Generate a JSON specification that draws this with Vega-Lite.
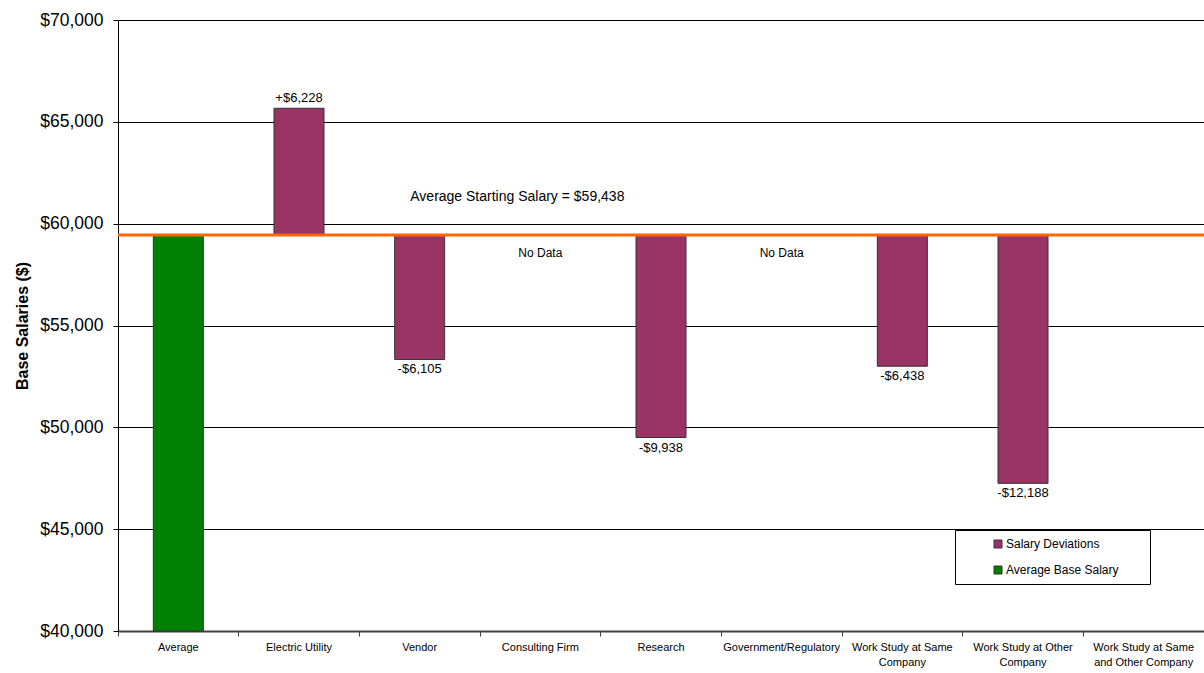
{
  "$schema": "https://vega.github.io/schema/vega-lite/v6.json",
  "autosize": {"type": "none"},
  "padding": {"left": 118, "top": 20, "right": 0, "bottom": 42},
  "width": 1086,
  "height": 611,
  "background": "white",
  "config": {
    "view": {"stroke": null},
    "font": "Liberation Sans",
    "text": {"font": "Liberation Sans"}
  },
  "datasets": {
    "bars": [
      {"cat": "Average", "start": 40000, "end": 59438, "series": "Average Base Salary", "label": ""},
      {"cat": "Electric Utility", "start": 59438, "end": 65666, "series": "Salary Deviations", "label": "+$6,228"},
      {"cat": "Vendor", "start": 59438, "end": 53333, "series": "Salary Deviations", "label": "-$6,105"},
      {"cat": "Research", "start": 59438, "end": 49500, "series": "Salary Deviations", "label": "-$9,938"},
      {"cat": "Work Study at Same Company", "start": 59438, "end": 53000, "series": "Salary Deviations", "label": "-$6,438"},
      {"cat": "Work Study at Other Company", "start": 59438, "end": 47250, "series": "Salary Deviations", "label": "-$12,188"}
    ],
    "nodata": [
      {"cat": "Consulting Firm", "y": 58560, "text": "No Data"},
      {"cat": "Government/Regulatory", "y": 58560, "text": "No Data"}
    ],
    "avg": [
      {"cat": "Consulting Firm", "value": 59438, "ylabel": 61300, "text": "Average Starting Salary = $59,438"}
    ]
  },
  "layer": [
    {
      "data": {"name": "bars"},
      "mark": {"type": "bar", "width": 50, "stroke": "#333333", "strokeWidth": 1},
      "encoding": {
        "x": {
          "field": "cat", "type": "nominal", "sort": null,
          "scale": {
            "domain": ["Average", "Electric Utility", "Vendor", "Consulting Firm", "Research", "Government/Regulatory", "Work Study at Same Company", "Work Study at Other Company", "Work Study at Same and Other Company"],
            "paddingInner": 0, "paddingOuter": 0
          },
          "axis": {
            "title": null, "bandPosition": 0, "labelAngle": 0,
            "tickSize": 5, "tickColor": "#404040", "domainColor": "#404040", "domainWidth": 2,
            "labelFontSize": 11, "labelColor": "black", "labelPadding": 5, "labelLimit": 300,
            "labelOverlap": false, "labelBound": false, "labelLineHeight": 15, "labelBaseline": "top",
            "grid": false,
            "labelExpr": "datum.value == 'Work Study at Same Company' ? ['Work Study at Same', 'Company'] : datum.value == 'Work Study at Other Company' ? ['Work Study at Other', 'Company'] : datum.value == 'Work Study at Same and Other Company' ? ['Work Study at Same', 'and Other Company'] : datum.value"
          }
        },
        "y": {
          "field": "start", "type": "quantitative",
          "scale": {"domain": [40000, 70000], "nice": false, "zero": false},
          "axis": {
            "title": "Base Salaries ($)", "titleFontSize": 16, "titleFontWeight": "bold", "titleColor": "black", "titlePadding": 9,
            "values": [40000, 45000, 50000, 55000, 60000, 65000, 70000], "format": "$,d",
            "labelFontSize": 17.5, "labelColor": "black", "labelPadding": 10, "tickSize": 5, "tickColor": "black",
            "domainColor": "black", "grid": true, "gridColor": "black", "gridOpacity": 1, "gridWidth": 1
          }
        },
        "y2": {"field": "end"},
        "color": {
          "field": "series", "type": "nominal",
          "scale": {"domain": ["Salary Deviations", "Average Base Salary"], "range": ["#993366", "#008000"]},
          "legend": {
            "title": null, "orient": "none", "legendX": 837, "legendY": 510,
            "symbolType": "square", "symbolSize": 64, "symbolStrokeColor": "#333333", "symbolStrokeWidth": 1,
            "symbolOffset": 29, "labelFontSize": 12, "labelColor": "black", "labelOffset": 2,
            "rowPadding": 14, "padding": 8, "strokeColor": "black", "fillColor": "white",
            "labelExpr": "datum.label + '       \u200b'", "labelLimit": 300
          }
        }
      }
    },
    {
      "data": {"name": "bars"},
      "transform": [{"filter": "datum.end > datum.start && datum.label != ''"}],
      "mark": {"type": "text", "baseline": "bottom", "dy": -3, "fontSize": 13, "color": "black"},
      "encoding": {
        "x": {"field": "cat", "type": "nominal", "sort": null},
        "y": {"field": "end", "type": "quantitative"},
        "text": {"field": "label"}
      }
    },
    {
      "data": {"name": "bars"},
      "transform": [{"filter": "datum.end < datum.start"}],
      "mark": {"type": "text", "baseline": "top", "dy": 4, "fontSize": 13, "color": "black"},
      "encoding": {
        "x": {"field": "cat", "type": "nominal", "sort": null},
        "y": {"field": "end", "type": "quantitative"},
        "text": {"field": "label"}
      }
    },
    {
      "data": {"name": "nodata"},
      "mark": {"type": "text", "baseline": "middle", "fontSize": 12, "color": "black"},
      "encoding": {
        "x": {"field": "cat", "type": "nominal", "sort": null},
        "y": {"field": "y", "type": "quantitative"},
        "text": {"field": "text"}
      }
    },
    {
      "data": {"name": "avg"},
      "mark": {"type": "rule", "color": "#FF6600", "strokeWidth": 3},
      "encoding": {
        "y": {"field": "value", "type": "quantitative"}
      }
    },
    {
      "data": {"name": "avg"},
      "mark": {"type": "text", "baseline": "middle", "fontSize": 14, "dx": -23, "color": "black"},
      "encoding": {
        "x": {"field": "cat", "type": "nominal", "sort": null},
        "y": {"field": "ylabel", "type": "quantitative"},
        "text": {"field": "text"}
      }
    }
  ]
}
